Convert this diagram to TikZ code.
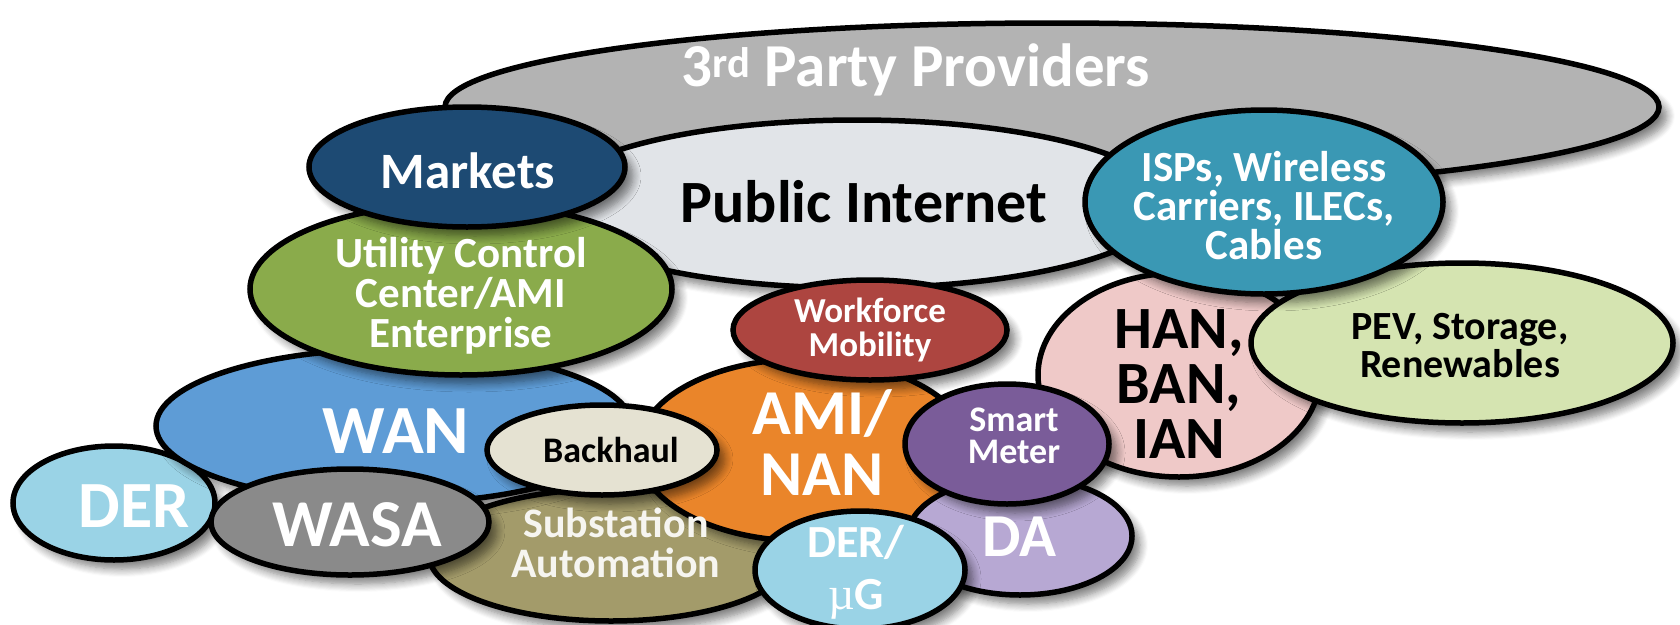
\documentclass[tikz,border=0pt]{standalone}
\usepackage{fontspec}
\setmainfont{Carlito}
\usetikzlibrary{shapes.geometric,shadows.blur}

\definecolor{cThird}{HTML}{B3B3B3}
\definecolor{cPub}{HTML}{E1E4E8}
\definecolor{cMarket}{HTML}{1D4A73}
\definecolor{cUtil}{HTML}{8AAB4B}
\definecolor{cWork}{HTML}{AD4540}
\definecolor{cIsp}{HTML}{3A98B4}
\definecolor{cHan}{HTML}{EFC9C8}
\definecolor{cPev}{HTML}{D5E4B1}
\definecolor{cAmi}{HTML}{EA852A}
\definecolor{cSmart}{HTML}{7A5C99}
\definecolor{cWan}{HTML}{5E9CD6}
\definecolor{cBack}{HTML}{E5E2D2}
\definecolor{cDer}{HTML}{9AD3E6}
\definecolor{cWasa}{HTML}{8A8A8A}
\definecolor{cSub}{HTML}{A39B6A}
\definecolor{cDa}{HTML}{B7A8D3}

\tikzset{
  bub/.style={ellipse, draw=black, line width=5.5pt, fill=#1, inner sep=0pt,
    blur shadow={shadow xshift=8pt, shadow yshift=-9pt, shadow blur radius=8pt,
                 shadow blur steps=8, shadow opacity=50}},
  lbl/.style={align=center, text=white, inner sep=0pt},
  dark/.style={lbl, text=black},
  fsz/.style 2 args={font=\fontsize{#1}{#2}\selectfont\bfseries},
}
% bubble: name, x, y, width, height, fill
\newcommand{\bubble}[6]{\node[bub=#6, minimum width=#4pt, minimum height=#5pt] (#1) at (#2,#3) {};}

\begin{document}
\begin{tikzpicture}[x=1pt,y=-1pt]
\useasboundingbox (0,0) rectangle (1680,624);

% bubbles, back to front
\bubble{third}{1052}{107}{1214}{168}{cThird}
\bubble{pub}{857}{204}{622}{168}{cPub}
\bubble{sub}{611}{555}{364}{132}{cSub}
\bubble{der}{114}{503}{202}{114}{cDer}
\bubble{wan}{394}{426}{476}{154}{cWan}
\bubble{han}{1179}{375}{282}{204}{cHan}
\bubble{pev}{1462}{343}{422}{160}{cPev}
\bubble{isp}{1264}{202}{358}{184}{cIsp}
\bubble{ami}{804}{450}{332}{182}{cAmi}
\bubble{da}{1020}{536}{224}{118}{cDa}
\bubble{util}{461}{289}{422}{172}{cUtil}
\bubble{mkt}{467}{167}{316}{120}{cMarket}
\bubble{work}{870}{330}{274}{100}{cWork}
\bubble{back}{602}{450}{230}{90}{cBack}
\bubble{wasa}{350}{522}{278}{106}{cWasa}
\bubble{smart}{1007}{444}{204}{120}{cSmart}
\bubble{deru}{860}{570}{210}{118}{cDer}

% labels
\node[lbl, fsz={61}{64}] (thirdT) at (916,70) {3\textsuperscript{rd} Party Providers};
\node[dark, fsz={60}{64}] (pubT) at (864,202) {Public Internet};
\node[lbl, fsz={51}{54}] (mktT) at (468,171) {Markets};
\node[lbl, fsz={43}{40}] (utilT) at (461,296) {Utility Control\\Center/AMI\\Enterprise};
\node[lbl, fsz={35}{34}] (workT) at (870,330) {Workforce\\Mobility};
\node[dark, fsz={60}{55}] (hanT) at (1179,384) {HAN,\\BAN,\\IAN};
\node[lbl, fsz={43}{39}] (ispT) at (1264,206) {ISPs, Wireless\\Carriers, ILECs,\\Cables};
\node[dark, fsz={40}{38}] (pevT) at (1460,346) {PEV, Storage,\\Renewables};
\node[lbl, fsz={64}{61}] (amiT) at (822,443) {AMI/\\NAN};
\node[lbl, fsz={36}{32}] (smartT) at (1014,436) {Smart\\Meter};
\node[lbl, fsz={69}{69}] (wanT) at (396,431) {WAN};
\node[dark, fsz={36}{36}] (backT) at (611,450) {Backhaul};
\node[lbl, fsz={66}{66}] (derT) at (134,506) {DER};
\node[lbl, fsz={67}{67}] (wasaT) at (357,525) {WASA};
\node[lbl, text=white!90!cSub, fsz={42}{40}] (subT) at (616,543) {Substation\\Automation};
\node[lbl, fsz={46}{52}] (deruT) at (856,572) {DER/\\{\fontspec{Liberation Serif}\mdseries µ}G};
\node[lbl, fsz={61}{61}] (daT) at (1019,537) {DA};
\end{tikzpicture}
\end{document}
